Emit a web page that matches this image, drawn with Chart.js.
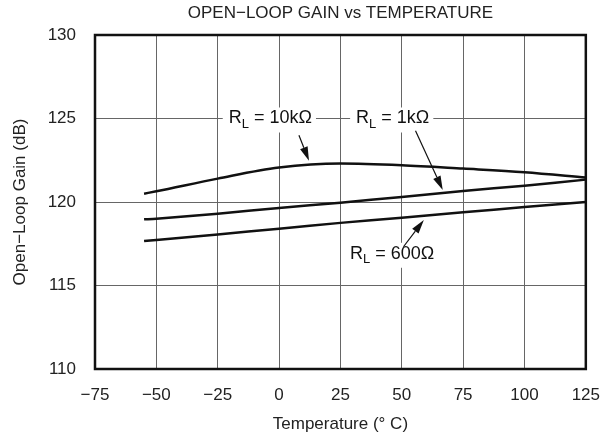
<!DOCTYPE html>
<html>
<head>
<meta charset="utf-8">
<style>
  html, body { margin: 0; padding: 0; background: #fff; }
  #wrap { width: 616px; height: 442px; }
</style>
<script src="https://cdn.jsdelivr.net/npm/chart.js@4.4.1/dist/chart.umd.min.js"></script>
</head>
<body>
<div id="wrap"><canvas id="chartGain" width="616" height="442"></canvas></div>
<script>
// data
const temps = [-55, -50, -25, 0, 25, 50, 75, 100, 125];
const gain10k = [120.5, 120.64, 121.4, 122.06, 122.3, 122.2, 122.0, 121.78, 121.46];
const gain1k = [118.96, 119.0, 119.3, 119.64, 119.96, 120.3, 120.66, 120.98, 121.34];
const gain600 = [117.66, 117.72, 118.06, 118.4, 118.75, 119.06, 119.38, 119.7, 120.0];
const xTicks = [-75, -50, -25, 0, 25, 50, 75, 100, 125];
const yTicks = [110, 115, 120, 125, 130];

const titleText = "OPEN\u2212LOOP GAIN vs TEMPERATURE";
const fam = '"Liberation Sans", Arial, Helvetica, sans-serif';
Chart.defaults.font.family = fam;
Chart.defaults.color = "#222";

// callouts, placed in data units (temperature, dB)
const labels = [
  { rest: " = 10k\u03A9", x: -20.5, y: 125 },
  { rest: " = 1k\u03A9", x: 31.4, y: 125 },
  { rest: " = 600\u03A9", x: 28.9, y: 116.9 },
];
const arrows = [
  { from: [8.1, 124.0], to: [12.2, 122.47] },
  { from: [55.6, 124.27], to: [66.7, 120.72] },
  { from: [50.7, 117.32], to: [59.0, 118.92] },
];

const toPts = (vals) => temps.map((t, i) => ({ x: t, y: vals[i] }));
const minus = (v) => String(v).replace("-", "\u2212");

const notePlugin = {
  id: "notes",
  afterDatasetsDraw(chart) {
    const { ctx, scales: { x, y } } = chart;
    ctx.save();
    labels.forEach((lb) => {
      const px = x.getPixelForValue(lb.x);
      const py = y.getPixelForValue(lb.y);
      ctx.font = "18px " + fam;
      const wR = ctx.measureText("R").width;
      const wRest = ctx.measureText(lb.rest).width;
      ctx.font = "13px " + fam;
      const wL = ctx.measureText("L").width;
      ctx.fillStyle = "#fff";
      ctx.fillRect(px - 6, py - 11, wR + wL + wRest + 10, 25);
      ctx.fillStyle = "#111";
      ctx.textBaseline = "middle";
      ctx.textAlign = "left";
      ctx.font = "18px " + fam;
      ctx.fillText("R", px, py);
      ctx.fillText(lb.rest, px + wR + wL, py);
      ctx.font = "13px " + fam;
      ctx.fillText("L", px + wR, py + 6);
    });

    ctx.strokeStyle = "#111";
    ctx.fillStyle = "#111";
    ctx.lineWidth = 1.2;
    arrows.forEach((a) => {
      const x0 = x.getPixelForValue(a.from[0]);
      const y0 = y.getPixelForValue(a.from[1]);
      const x1 = x.getPixelForValue(a.to[0]);
      const y1 = y.getPixelForValue(a.to[1]);
      const ang = Math.atan2(y1 - y0, x1 - x0);
      const len = 14, half = 4;
      const bx = x1 - len * Math.cos(ang);
      const by = y1 - len * Math.sin(ang);
      ctx.beginPath();
      ctx.moveTo(x0, y0);
      ctx.lineTo(bx, by);
      ctx.stroke();
      ctx.beginPath();
      ctx.moveTo(x1, y1);
      ctx.lineTo(bx + half * Math.sin(ang), by - half * Math.cos(ang));
      ctx.lineTo(bx - half * Math.sin(ang), by + half * Math.cos(ang));
      ctx.closePath();
      ctx.fill();
    });
    ctx.restore();
  },
  afterDraw(chart) {
    const { ctx, chartArea: a } = chart;
    ctx.save();
    ctx.strokeStyle = "#111";
    ctx.lineWidth = 2.5;
    ctx.strokeRect(a.left, a.top, a.right - a.left, a.bottom - a.top);
    // title centred over the plot frame
    ctx.fillStyle = "#222";
    ctx.font = "17px " + fam;
    ctx.textAlign = "center";
    ctx.textBaseline = "middle";
    ctx.fillText(titleText, (a.left + a.right) / 2, 13);
    ctx.restore();
  },
};

const lineStyle = {
  borderColor: "#111",
  borderWidth: 2.5,
  pointRadius: 0,
  fill: false,
};

new Chart(document.getElementById("chartGain"), {
  type: "line",
  data: {
    datasets: [
      { label: "RL = 10k", data: toPts(gain10k), ...lineStyle, cubicInterpolationMode: "monotone" },
      { label: "RL = 1k", data: toPts(gain1k), ...lineStyle, tension: 0.3 },
      { label: "RL = 600", data: toPts(gain600), ...lineStyle, tension: 0.3 },
    ],
  },
  options: {
    responsive: false,
    animation: false,
    devicePixelRatio: 1,
    layout: { padding: { left: 0, right: 26, top: 35, bottom: 0 } },
    plugins: {
      legend: { display: false },
      tooltip: { enabled: false },
      title: { display: false },
    },
    scales: {
      x: {
        type: "linear",
        min: -75,
        max: 125,
        afterBuildTicks: (s) => { s.ticks = xTicks.map((v) => ({ value: v })); },
        afterFit: (s) => { s.height = 73; },
        ticks: { callback: minus, font: { size: 17 }, padding: 16, maxRotation: 0 },
        grid: { color: "#666", lineWidth: 1, drawTicks: false },
        border: { display: false },
        title: {
          display: true,
          text: "Temperature (\u00B0 C)",
          font: { size: 17 },
          padding: { top: 0, bottom: 7.8 },
        },
      },
      y: {
        min: 110,
        max: 130,
        afterBuildTicks: (s) => { s.ticks = yTicks.map((v) => ({ value: v })); },
        afterFit: (s) => { s.width = 95; },
        ticks: { font: { size: 17 }, padding: 19 },
        grid: { color: "#666", lineWidth: 1, drawTicks: false },
        border: { display: false },
        title: {
          display: true,
          text: "Open\u2212Loop Gain (dB)",
          font: { size: 17 },
          padding: { top: 9.8, bottom: 0 },
        },
      },
    },
  },
  plugins: [notePlugin],
});
</script>
</body>
</html>
